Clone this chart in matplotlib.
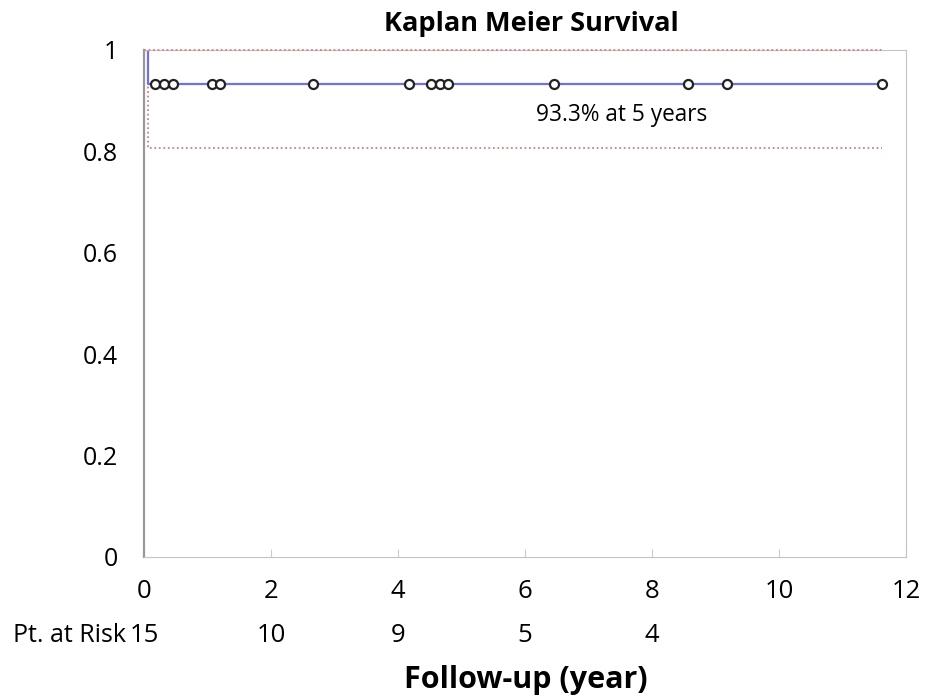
import matplotlib.pyplot as plt

# survival step data
event_times = [0.0, 0.07, 11.62]
survival = [1.0, 0.933, 0.933]
ci_upper = [1.0, 1.0, 1.0]
ci_lower = [1.0, 0.807, 0.807]

# censored observations
censor_times = [0.17, 0.31, 0.46, 1.07, 1.20, 2.66, 4.17, 4.52, 4.66, 4.79,
                6.46, 8.57, 9.18, 11.62]
censor_surv = [0.933] * len(censor_times)

x_ticks = [0, 2, 4, 6, 8, 10, 12]
y_ticks = [0, 0.2, 0.4, 0.6, 0.8, 1]
y_labels = ["0", "0.2", "0.4", "0.6", "0.8", "1"]
risk_times = [0, 2, 4, 6, 8]
risk_counts = [15, 10, 9, 5, 4]

plt.rcParams['font.family'] = ['Open Sans', 'DejaVu Sans']

fig = plt.figure(figsize=(9.33, 6.97), dpi=100)
ax = fig.add_axes([0.1543, 0.2009, 0.8167, 0.7274])

red = '#e07a7a'
ax.plot(event_times, ci_upper, drawstyle='steps-post', color=red, ls=(0, (1, 1.5)),
        lw=1.3, clip_on=False, zorder=5)
ax.plot(event_times, ci_lower, drawstyle='steps-post', color=red, ls=(0, (1, 1.5)), lw=1.3)
ax.plot(event_times, survival, drawstyle='steps-post', color='#7070e8', lw=1.6)
ax.plot(censor_times, censor_surv, ls='none', marker='o', ms=6.5,
        mfc='white', mec='#222222', mew=1.6)

ax.set_xlim(0, 12)
ax.set_ylim(0, 1)
ax.set_xticks(x_ticks)
ax.set_xticklabels([])
ax.set_yticks(y_ticks)
ax.set_yticklabels(y_labels, fontsize=18)
ax.tick_params(axis='x', direction='in', length=6, color='#cccccc')
ax.tick_params(axis='y', length=0, pad=19)

for side in ['top', 'right', 'bottom']:
    ax.spines[side].set_color('#c4c4c4')
ax.spines['left'].set_color('#999999')
ax.spines['left'].set_linewidth(1.6)

trans = ax.get_xaxis_transform()
for t in x_ticks:
    ax.text(t, -0.069, str(t), transform=trans, ha='center', va='center', fontsize=18.5)
for t, n in zip(risk_times, risk_counts):
    ax.text(t, -0.154, str(n), transform=trans, ha='center', va='center', fontsize=18.5)
ax.text(-0.28, -0.154, "Pt. at Risk", transform=trans, ha='right', va='center', fontsize=18)

ax.text(7.53, 0.872, "93.3% at 5 years", ha='center', va='center', fontsize=16.3)
ax.text(6.02, -0.243, "Follow-up (year)", transform=trans, ha='center', va='center',
        fontsize=22, fontweight='bold')
fig.text(0.569, 0.966, "Kaplan Meier Survival", ha='center', va='center',
         fontsize=19.5, fontweight='bold')

fig.savefig("out.png", dpi=100)
